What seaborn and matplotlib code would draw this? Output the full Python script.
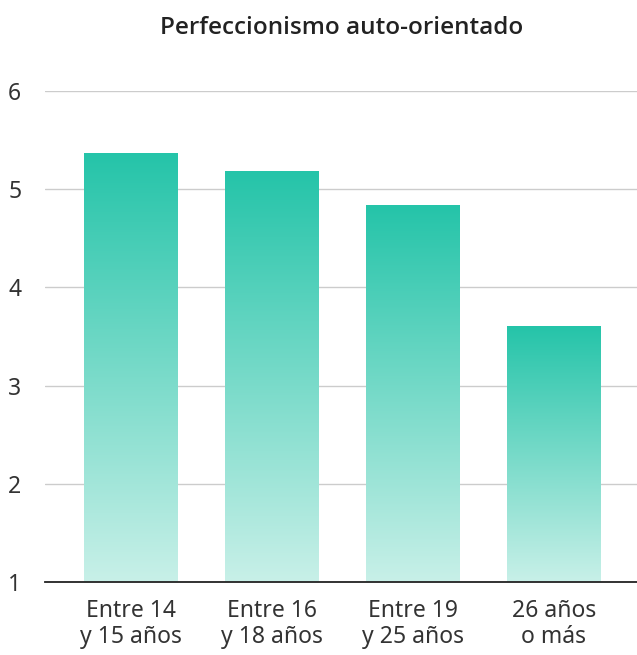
import numpy as np
import pandas as pd
import matplotlib
matplotlib.use("Agg")
import matplotlib.pyplot as plt
from matplotlib.colors import LinearSegmentedColormap
import seaborn as sns

categories = ["Entre 14\ny 15 años", "Entre 16\ny 18 años", "Entre 19\ny 25 años", "26 años\no más"]
values = [5.36, 5.18, 4.83, 3.60]
title = "Perfeccionismo auto-orientado"

sns.set_theme(style="white")
plt.rcParams['font.family'] = ['Noto Sans', 'DejaVu Sans']

fig = plt.figure(figsize=(6.37, 6.55), dpi=100)
ax = fig.add_axes([0.0706, 0.1115, 0.9294, 0.7495])

df = pd.DataFrame({"cat": categories, "val": values})
sns.barplot(data=df, x="cat", y="val", ax=ax, width=0.66, color="#25C4A9", zorder=2)

cmap = LinearSegmentedColormap.from_list("g", ["#C8F0E8", "#25C4A9"])
grad = np.linspace(0, 1, 256).reshape(-1, 1)
ymin = 1
for p in ax.patches:
    x0 = p.get_x()
    w = p.get_width()
    h = p.get_height()
    p.set_alpha(0)
    ax.imshow(grad, cmap=cmap, aspect="auto", origin="lower",
              extent=(x0, x0 + w, ymin, h), zorder=3)

ax.set_xlim(-0.607, 3.59)
ax.set_ylim(1, 6)
ax.set_yticks([1, 2, 3, 4, 5, 6])
ax.yaxis.grid(True, color="#CCCCCC", linewidth=1, zorder=0)
ax.set_axisbelow(True)
for s in ["top", "right", "left"]:
    ax.spines[s].set_visible(False)
ax.spines["bottom"].set_color("#222222")
ax.spines["bottom"].set_linewidth(1.3)
ax.spines["bottom"].set_zorder(5)
ax.tick_params(axis="both", length=0, labelsize=16.5, labelcolor="#333333")
ax.tick_params(axis="x", pad=12)
ax.tick_params(axis="y", pad=17)
ax.set_xlabel("")
ax.set_ylabel("")
for lbl in ax.get_xticklabels():
    lbl.set_linespacing(1.12)
fig.text(0.536, 0.957, title, ha="center", va="center", fontsize=17.5,
         fontweight=600, family=["Open Sans", "DejaVu Sans"], color="#222222")

fig.savefig("out.png", dpi=100)
